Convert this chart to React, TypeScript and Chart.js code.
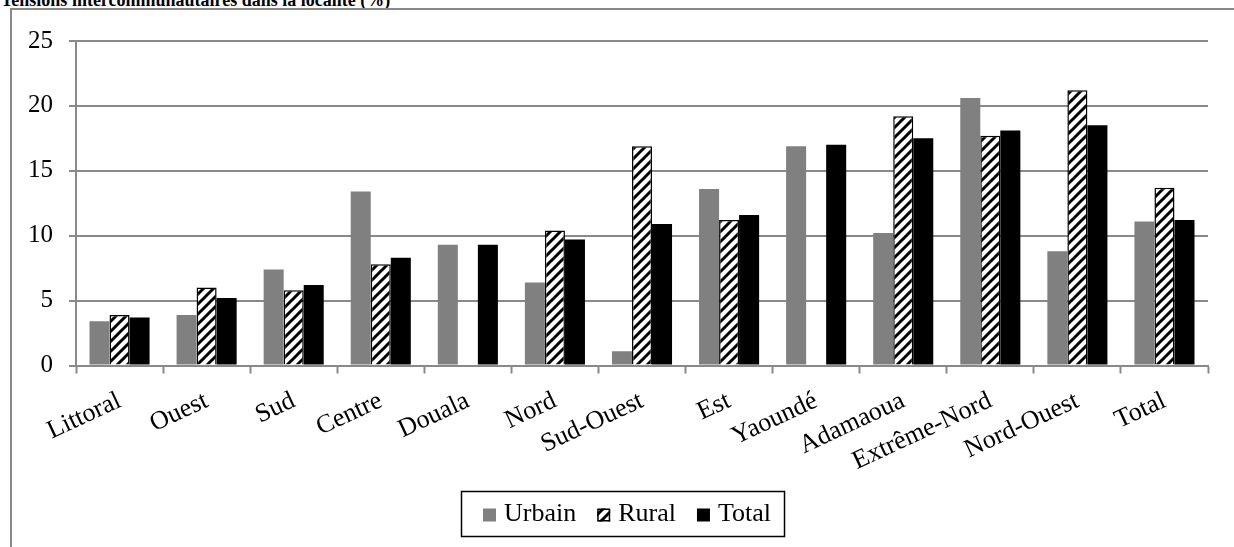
import React, { useEffect, useRef } from "react";
import { Chart, registerables } from "chart.js";

Chart.register(...registerables);

const titleText = "Tensions intercommunautaires dans la localité (%)";
const categories = [
  "Littoral", "Ouest", "Sud", "Centre", "Douala", "Nord", "Sud-Ouest",
  "Est", "Yaoundé", "Adamaoua", "Extrême-Nord", "Nord-Ouest", "Total",
];
const seriesNames = ["Urbain", "Rural", "Total"];
const urbainValues = [3.4, 3.9, 7.4, 13.4, 9.3, 6.4, 1.1, 13.6, 16.9, 10.2, 20.6, 8.8, 11.1];
const ruralValues = [3.9, 6.0, 5.8, 7.8, null, 10.4, 16.9, 11.2, null, 19.2, 17.7, 21.2, 13.7];
const totalValues = [3.7, 5.2, 6.2, 8.3, 9.3, 9.7, 10.9, 11.6, 17.0, 17.5, 18.1, 18.5, 11.2];
const yMin = 0;
const yMax = 25;
const yStep = 5;

const FONT = "'Liberation Serif', 'Times New Roman', serif";
const GRID = "#898989";

function makeStripePattern(): CanvasPattern | string {
  const size = 10;
  const c = document.createElement("canvas");
  c.width = size;
  c.height = size;
  const g = c.getContext("2d");
  if (!g) return "#fff";
  g.fillStyle = "#ffffff";
  g.fillRect(0, 0, size, size);
  g.strokeStyle = "#000000";
  g.lineWidth = 3;
  g.lineCap = "square";
  g.beginPath();
  g.moveTo(-2, size + 2);
  g.lineTo(size + 2, -2);
  g.moveTo(-2, 2);
  g.lineTo(2, -2);
  g.moveTo(size - 2, size + 2);
  g.lineTo(size + 2, size - 2);
  g.stroke();
  const p = g.createPattern(c, "repeat");
  return p || "#fff";
}

const boxedLegend = {
  id: "boxedLegend",
  afterDraw(chart: any) {
    const ctx = chart.ctx as CanvasRenderingContext2D;
    const H = chart.height;
    const W = chart.width;
    const fontSize = 26;
    const box = 13;
    const boxGap = 8;
    const itemGap = 21;
    ctx.save();
    ctx.font = `${fontSize}px ${FONT}`;
    const items = chart.data.datasets.map((ds: any) => ({
      label: ds.label,
      fill: ds.backgroundColor,
      border: ds.borderWidth > 0 ? ds.borderColor : null,
      w: ctx.measureText(ds.label).width,
    }));
    let content = 0;
    items.forEach((it: any, i: number) => {
      content += box + boxGap + it.w + (i < items.length - 1 ? itemGap : 0);
    });
    const padL = 22;
    const padR = 13;
    const rectW = content + padL + padR;
    const rectL = Math.round(W / 2 - rectW / 2);
    const rectT = H - 56;
    const rectB = H - 11;
    ctx.lineWidth = 1.5;
    ctx.strokeStyle = "#000";
    ctx.strokeRect(rectL + 0.5, rectT + 0.5, rectW, rectB - rectT);
    let x = rectL + padL;
    const cy = H - 33;
    ctx.textBaseline = "middle";
    ctx.textAlign = "left";
    items.forEach((it: any) => {
      ctx.fillStyle = it.fill;
      ctx.fillRect(x, cy - box / 2 + 1, box, box);
      if (it.border) {
        ctx.lineWidth = 1.5;
        ctx.strokeStyle = it.border;
        ctx.strokeRect(x + 0.75, cy - box / 2 + 1.75, box - 1.5, box - 1.5);
      }
      x += box + boxGap;
      ctx.fillStyle = "#000";
      ctx.fillText(it.label, x, cy);
      x += it.w + itemGap;
    });
    ctx.restore();
  },
};

export default function App() {
  const ref = useRef<HTMLCanvasElement | null>(null);

  useEffect(() => {
    if (!ref.current) return;
    const stripes = makeStripePattern();
    const chart = new Chart(ref.current, {
      type: "bar",
      data: {
        labels: categories,
        datasets: [
          {
            label: seriesNames[0],
            data: urbainValues,
            backgroundColor: "#808080",
            borderWidth: 0,
            borderColor: "#808080",
          },
          {
            label: seriesNames[1],
            data: ruralValues as any,
            backgroundColor: stripes as any,
            borderColor: "#000000",
            borderWidth: 1.5,
          },
          {
            label: seriesNames[2],
            data: totalValues,
            backgroundColor: "#000000",
            borderWidth: 0,
            borderColor: "#000000",
          },
        ],
      },
      options: {
        animation: false,
        responsive: false,
        maintainAspectRatio: false,
        events: [],
        layout: { padding: { top: 28, right: 26, left: 0, bottom: 0 } },
        datasets: {
          bar: { categoryPercentage: 0.69, barPercentage: 1.0 },
        },
        plugins: {
          legend: { display: false },
          title: { display: false },
          tooltip: { enabled: false },
        },
        scales: {
          x: {
            afterFit: (s: any) => {
              s.height = 181.5;
            },
            grid: {
              display: true,
              drawOnChartArea: false,
              drawTicks: true,
              tickLength: 8,
              tickWidth: 2,
              tickColor: GRID,
              offset: true,
            },
            border: { display: true, color: GRID, width: 2 },
            ticks: {
              autoSkip: false,
              minRotation: 25,
              maxRotation: 25,
              padding: 12,
              color: "#000",
              font: { family: FONT, size: 26 },
            },
          },
          y: {
            min: yMin,
            max: yMax,
            afterFit: (s: any) => {
              s.width = 64;
            },
            grid: {
              color: GRID,
              lineWidth: 2,
              drawTicks: true,
              tickLength: 7,
              tickColor: GRID,
            },
            border: { display: true, color: GRID, width: 2 },
            ticks: {
              stepSize: yStep,
              padding: 16,
              color: "#000",
              font: { family: FONT, size: 25 },
            },
          },
        },
      },
      plugins: [boxedLegend],
    });
    return () => chart.destroy();
  }, []);

  return (
    <div
      style={{
        position: "fixed",
        left: 0,
        top: 0,
        width: 1234,
        height: 547,
        overflow: "hidden",
        background: "#fff",
      }}
    >
      <div
        style={{
          position: "absolute",
          left: 1,
          top: -9,
          font: `bold 18px ${FONT}`,
          lineHeight: "18px",
          whiteSpace: "nowrap",
          color: "#000",
        }}
      >
        {titleText}
      </div>
      <div
        style={{
          position: "absolute",
          left: 10,
          top: 8,
          width: 1300,
          height: 700,
          border: "2px solid #888",
          boxSizing: "border-box",
        }}
      />
      <canvas
        ref={ref}
        width={1222}
        height={537}
        style={{ position: "absolute", left: 12, top: 10, width: 1222, height: 537 }}
      />
    </div>
  );
}
